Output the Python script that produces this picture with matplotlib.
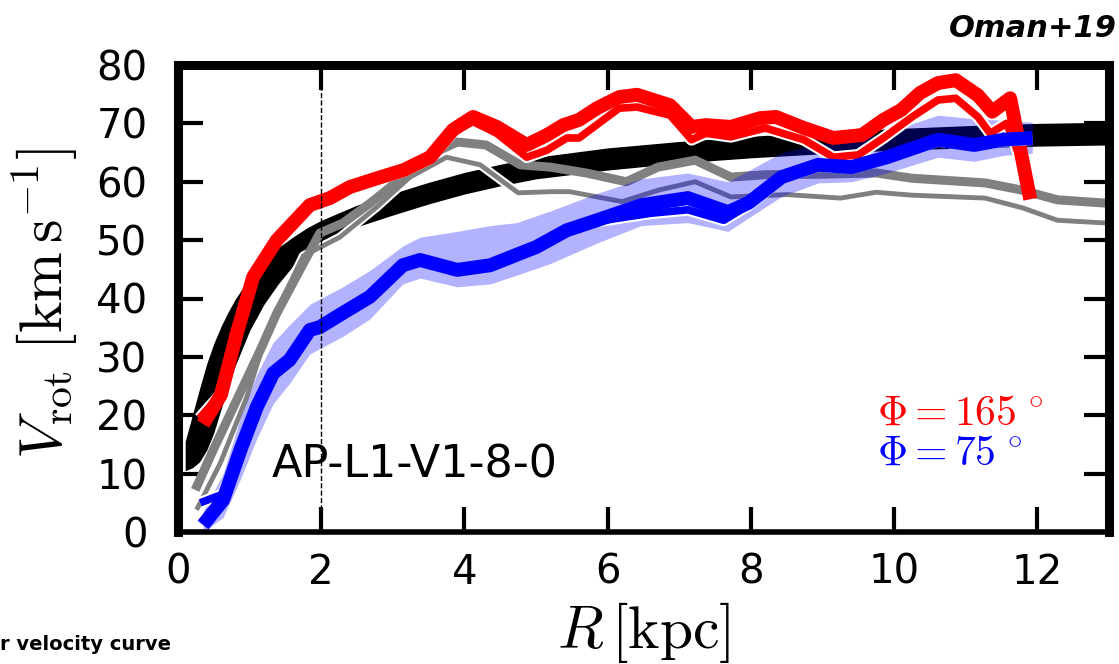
import numpy as np
import matplotlib
matplotlib.use("Agg")
import matplotlib.pyplot as plt
import matplotlib.patheffects as pe

plt.rcParams['mathtext.fontset'] = 'cm'

# ---------------- data ----------------
black_r = [0.10, 0.20, 0.30, 0.40, 0.50, 0.60, 0.70, 0.80, 1.00, 1.20, 1.40, 1.60, 1.80, 2.00,
           2.50, 3.00, 3.50, 4.00, 4.50, 5.00, 6.00, 7.00, 8.00, 9.00, 10.0, 11.0, 12.0, 13.0]
black_hi = [15.5, 20.0, 24.5, 28.8, 32.3, 35.2, 37.7, 39.9, 43.6, 46.5, 48.7, 50.5, 52.1, 53.4,
            56.0, 58.0, 59.9, 61.6, 63.0, 64.2, 65.8, 66.9, 67.8, 68.5, 69.1, 69.6, 70.0, 70.2]
black_lo = [10.5, 11.0, 12.0, 14.0, 17.0, 21.0, 25.0, 28.5, 34.5, 39.0, 42.5, 45.5, 47.8, 49.6,
            52.3, 54.3, 56.2, 57.9, 59.3, 60.5, 62.0, 63.2, 64.1, 64.8, 65.4, 65.8, 66.1, 66.3]

gray1_r = [0.24, 0.49, 0.82, 1.15, 1.38, 1.75, 1.98, 2.30, 2.68, 3.14, 3.56, 3.90, 4.30, 4.78,
           5.20, 5.70, 6.26, 6.70, 7.22, 7.72, 8.20, 9.00, 9.75, 10.25, 11.27, 11.77, 12.28, 13.0]
gray1_v = [7.2, 14.0, 22.6, 31.2, 37.5, 46.0, 51.2, 52.9, 56.3, 60.8, 64.9, 66.8, 66.3, 62.9,
           62.5, 61.5, 60.0, 62.5, 63.7, 60.8, 61.2, 61.3, 61.5, 60.6, 59.8, 58.6, 56.9, 56.3]

gray2_r = [0.26, 0.59, 0.96, 1.24, 1.52, 1.75, 2.26, 2.78, 3.24, 3.75, 4.22, 4.75, 5.20, 5.47,
           6.20, 6.72, 7.22, 7.72, 8.50, 9.25, 9.75, 10.25, 11.27, 11.80, 12.28, 13.0]
gray2_v = [3.8, 11.8, 23.1, 34.0, 41.5, 47.3, 50.5, 55.7, 60.8, 64.2, 62.9, 58.1, 58.3, 58.3,
           56.6, 58.6, 60.0, 57.4, 57.8, 57.2, 58.2, 57.7, 57.2, 55.5, 53.4, 52.9]

red1_r = [0.35, 0.60, 0.82, 1.05, 1.38, 1.84, 2.12, 2.40, 2.78, 3.15, 3.52, 3.84, 4.12, 4.45,
          4.87, 5.15, 5.38, 5.60, 5.85, 6.16, 6.41, 6.87, 7.17, 7.37, 7.72, 8.13, 8.35, 8.74,
          9.15, 9.55, 9.85, 10.10, 10.36, 10.61, 10.86, 11.17, 11.37, 11.62, 11.90]
red1_v = [18.5, 23.5, 34.0, 43.7, 50.0, 56.0, 57.2, 59.1, 60.6, 62.0, 64.2, 68.9, 71.1, 69.4,
          66.3, 68.0, 69.7, 70.6, 72.6, 74.5, 74.9, 73.1, 69.4, 69.7, 69.4, 70.9, 71.1, 69.2,
          67.5, 68.0, 70.6, 72.3, 75.2, 76.9, 77.4, 74.8, 72.0, 74.3, 57.0]

red2_r = [0.30, 0.59, 0.82, 1.05, 1.38, 1.84, 2.12, 2.40, 2.78, 3.15, 3.52, 3.84, 4.12, 4.45,
          4.87, 5.15, 5.43, 5.60, 6.16, 6.41, 6.87, 7.17, 7.37, 7.72, 8.20, 8.74, 9.15, 9.50,
          9.85, 10.25, 10.61, 10.86, 11.17, 11.34, 11.57, 11.90]
red2_v = [19.5, 23.5, 34.0, 43.7, 50.0, 56.0, 57.0, 58.8, 60.4, 61.8, 64.0, 68.5, 70.3, 68.3,
          64.2, 65.4, 67.5, 67.5, 72.6, 72.8, 71.4, 67.2, 68.3, 67.7, 69.2, 67.2, 64.2, 64.6,
          67.5, 71.1, 74.0, 74.3, 71.1, 68.3, 70.0, 59.8]

blue1_r = [0.35, 0.63, 0.87, 1.10, 1.33, 1.56, 1.84, 1.98, 2.30, 2.68, 3.14, 3.38, 3.90, 4.36,
           4.73, 5.00, 5.43, 5.85, 6.47, 7.12, 7.68, 7.97, 8.43, 8.94, 9.40, 9.90, 10.61, 11.12,
           11.52, 11.93]
blue1_v = [1.2, 5.5, 14.0, 21.4, 27.2, 29.5, 34.6, 35.1, 37.5, 40.3, 45.7, 46.6, 44.9, 45.7,
           47.5, 48.8, 51.7, 53.4, 56.0, 57.2, 54.8, 56.4, 60.8, 62.9, 62.5, 64.2, 67.2, 66.3,
           67.2, 67.5]

blue2_r = [0.31, 0.63, 0.87, 1.10, 1.33, 1.56, 1.84, 1.98, 2.30, 2.68, 3.14, 3.38, 3.90, 4.36,
           4.73, 5.00, 5.43, 5.85, 6.60, 7.12, 7.62, 7.97, 8.43, 8.94, 9.40, 9.90, 10.61, 11.12,
           11.52, 11.93]
blue2_v = [5.0, 6.5, 14.0, 21.4, 27.2, 29.5, 34.6, 35.1, 37.5, 40.3, 45.7, 46.6, 44.9, 45.7,
           47.5, 48.8, 51.7, 53.2, 54.6, 55.2, 53.4, 56.0, 60.6, 62.7, 62.4, 64.2, 67.0, 66.2,
           67.0, 67.3]

band_r = [0.35, 0.63, 0.87, 1.10, 1.33, 1.56, 1.84, 2.30, 2.68, 3.14, 3.38, 3.90, 4.36, 4.73,
          5.20, 5.85, 6.47, 7.12, 7.68, 8.43, 8.94, 9.40, 9.90, 10.61, 11.12, 11.52, 11.93]
band_hi = [3.5, 10.0, 19.5, 27.0, 32.5, 35.5, 39.0, 42.0, 44.8, 49.0, 50.5, 51.5, 52.5, 53.0,
           55.0, 58.0, 60.5, 61.5, 60.0, 65.0, 66.5, 67.0, 68.5, 71.4, 70.8, 70.5, 70.2]
band_lo = [0.0, 2.5, 9.0, 16.0, 22.0, 25.5, 30.5, 33.5, 36.5, 42.5, 43.5, 42.0, 42.5, 44.0,
           46.0, 49.5, 52.5, 53.0, 51.5, 57.5, 59.8, 60.0, 61.5, 64.2, 63.5, 64.5, 64.9]

x_ticks = [0, 2, 4, 6, 8, 10, 12]
y_ticks = [0, 10, 20, 30, 40, 50, 60, 70, 80]

# ---------------- figure ----------------
W, H = 1119, 664
fig = plt.figure(figsize=(W / 100, H / 100), dpi=100)
ax = fig.add_axes([178 / W, 1 - 532 / H, (1109 - 178) / W, (532 - 65) / H])

ax.fill_between(black_r, black_lo, black_hi, color='black', lw=0, zorder=1)

outline = lambda lw: [pe.Stroke(linewidth=lw + 3, foreground='white'), pe.Normal()]

ax.plot(gray2_r, gray2_v, color='#808080', lw=3.5, solid_capstyle='butt',
        path_effects=outline(3.5), zorder=2)
ax.plot(gray1_r, gray1_v, color='#808080', lw=6.5, solid_capstyle='butt', zorder=3)

ax.fill_between(band_r, band_lo, band_hi, color='blue', alpha=0.3, lw=0, zorder=4)

ax.plot(red2_r, red2_v, color='red', lw=5.5, solid_capstyle='butt',
        path_effects=outline(5.5), zorder=5)
ax.plot(red1_r, red1_v, color='red', lw=10, solid_capstyle='butt', zorder=6)

ax.plot(blue2_r, blue2_v, color='blue', lw=5.5, solid_capstyle='butt',
        path_effects=outline(5.5), zorder=7)
ax.plot(blue1_r, blue1_v, color='blue', lw=10, solid_capstyle='butt', zorder=8)

ax.axvline(2, color='black', ls='--', lw=1, zorder=9)

ax.set_xlim(0, 13)
ax.set_ylim(0, 80)
ax.set_xticks(x_ticks)
ax.set_yticks(y_ticks)
ax.tick_params(direction='in', length=18, width=3, top=True, right=True,
               labelsize=29, zorder=10)
ax.tick_params(axis='x', pad=15)
ax.tick_params(axis='y', pad=22)
for side in ['top', 'left', 'right']:
    ax.spines[side].set_linewidth(6.5)
ax.spines['bottom'].set_linewidth(4)
for s in ax.spines.values():
    s.set_zorder(11)

ax.set_xlabel(r'$R\,[{\rm kpc}]$', fontsize=43)
ax.set_ylabel(r'$V_{\rm rot}\ [{\rm km\,s^{-1}}]$', fontsize=43)
ax.xaxis.set_label_coords(0.5, -0.146)
ax.yaxis.set_label_coords(-0.105, 0.49)

ax.text(1.31, 9.4, 'AP-L1-V1-8-0', fontsize=32, va='baseline', zorder=12)
ax.text(9.76, 18.3, r'$\Phi=165\;^{\circ}$', color='red', fontsize=30, va='baseline')
ax.text(9.76, 11.5, r'$\Phi=75\;^{\circ}$', color='blue', fontsize=30, va='baseline')

fig.text(1117 / W, 1 - 37 / H, 'Oman+19', fontsize=22, fontweight='bold',
         style='italic', ha='right', va='baseline', family='DejaVu Sans')
fig.text(0.0, 1 - 650 / H, 'r velocity curve', fontsize=14, fontweight='bold',
         ha='left', va='baseline', family='DejaVu Sans')

fig.savefig('out.png', dpi=100)
